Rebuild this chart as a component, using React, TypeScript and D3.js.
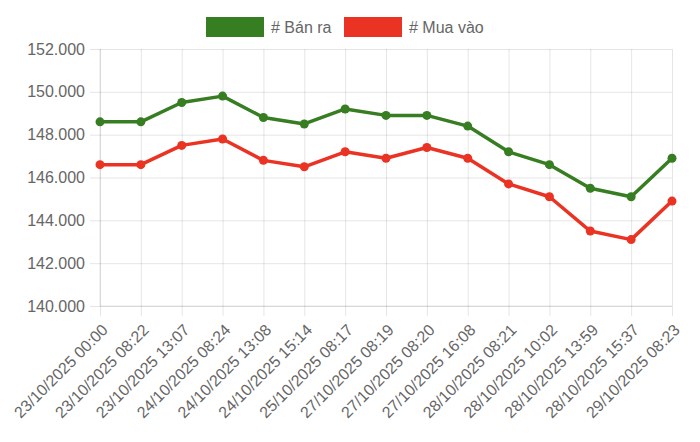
import * as d3 from "d3";
import { useEffect, useRef } from "react";

const labels = [
  "23/10/2025 00:00",
  "23/10/2025 08:22",
  "23/10/2025 13:07",
  "24/10/2025 08:24",
  "24/10/2025 13:08",
  "24/10/2025 15:14",
  "25/10/2025 08:17",
  "27/10/2025 08:19",
  "27/10/2025 08:20",
  "27/10/2025 16:08",
  "28/10/2025 08:21",
  "28/10/2025 10:02",
  "28/10/2025 13:59",
  "28/10/2025 15:37",
  "29/10/2025 08:23",
];

const banRa = [
  148600, 148600, 149500, 149800, 148800, 148500, 149200, 148900, 148900, 148400,
  147200, 146600, 145500, 145100, 146900,
];

const muaVao = [
  146600, 146600, 147500, 147800, 146800, 146500, 147200, 146900, 147400, 146900,
  145700, 145100, 143500, 143100, 144900,
];

const yTicks = [140000, 142000, 144000, 146000, 148000, 150000, 152000];

const seriesNames = ["# Bán ra", "# Mua vào"];
const seriesColors = ["#377d22", "#ea3323"];

export default function App() {
  const ref = useRef<SVGSVGElement | null>(null);

  useEffect(() => {
    const el = ref.current;
    if (!el) return;
    const svg = d3.select(el);
    svg.selectAll("*").remove();

    const W = 700;
    const H = 442;
    const left = 100;
    const right = 672;
    const top = 49;
    const bottom = 306;
    const font = "'Liberation Sans', Arial, Helvetica, sans-serif";
    const grid = "rgba(0,0,0,0.1)";
    const txt = "#666";

    svg.attr("width", W).attr("height", H).attr("viewBox", `0 0 ${W} ${H}`);

    const x = d3.scalePoint<string>().domain(labels).range([left, right]);
    const y = d3.scaleLinear().domain([140000, 152000]).range([bottom, top]);
    const fmt = d3
      .formatLocale({ decimal: ",", thousands: ".", grouping: [3], currency: ["", ""] })
      .format(",d");

    // horizontal grid + y ticks
    svg
      .append("g")
      .attr("transform", `translate(${left},0)`)
      .call(
        d3
          .axisLeft(y)
          .tickValues(yTicks)
          .tickSize(10)
          .tickPadding(5)
          .tickFormat((v) => fmt(v as number)),
      )
      .call((ga) => ga.select(".domain").remove())
      .call((ga) => ga.selectAll(".tick line").attr("stroke", grid))
      .call((ga) =>
        ga
          .selectAll(".tick text")
          .attr("fill", txt)
          .attr("font-size", 16)
          .attr("font-family", font),
      )
      .call((ga) =>
        ga
          .selectAll(".tick")
          .append("line")
          .attr("x1", 0)
          .attr("x2", right - left)
          .attr("stroke", grid),
      );

    // vertical grid + x ticks
    const xg = svg.append("g").attr("transform", `translate(0,${bottom})`);
    xg.call(d3.axisBottom(x).tickSize(10).tickFormat(() => ""))
      .call((ga) => ga.select(".domain").remove())
      .call((ga) => ga.selectAll(".tick line").attr("stroke", grid))
      .call((ga) =>
        ga
          .selectAll(".tick")
          .append("line")
          .attr("y1", 0)
          .attr("y2", top - bottom)
          .attr("stroke", grid),
      );

    svg
      .append("g")
      .selectAll("text")
      .data(labels)
      .join("text")
      .attr("transform", (d) => `translate(${(x(d) ?? 0) + 5},${bottom + 21}) rotate(-45)`)
      .attr("text-anchor", "end")
      .attr("dominant-baseline", "central")
      .attr("fill", txt)
      .attr("font-size", 16)
      .attr("font-family", font)
      .text((d) => d);

    // axis borders
    svg
      .append("line")
      .attr("x1", left)
      .attr("x2", left)
      .attr("y1", top)
      .attr("y2", bottom)
      .attr("stroke", grid);
    svg
      .append("line")
      .attr("x1", left)
      .attr("x2", right)
      .attr("y1", bottom)
      .attr("y2", bottom)
      .attr("stroke", grid);

    const line = d3
      .line<number>()
      .x((_, i) => x(labels[i]) ?? 0)
      .y((d) => y(d));

    [banRa, muaVao].forEach((vals, si) => {
      const col = seriesColors[si];
      svg
        .append("path")
        .datum(vals)
        .attr("fill", "none")
        .attr("stroke", col)
        .attr("stroke-width", 3.5)
        .attr("stroke-linejoin", "round")
        .attr("d", line);
      svg
        .append("g")
        .selectAll("circle")
        .data(vals)
        .join("circle")
        .attr("cx", (_, i) => x(labels[i]) ?? 0)
        .attr("cy", (d) => y(d))
        .attr("r", 4.5)
        .attr("fill", col);
    });

    // legend
    const legendX = [206, 344];
    seriesNames.forEach((name, i) => {
      const lg = svg.append("g").attr("transform", `translate(${legendX[i]},17)`);
      lg.append("rect")
        .attr("width", 58)
        .attr("height", 20)
        .attr("fill", seriesColors[i]);
      lg.append("text")
        .attr("x", 65)
        .attr("y", 10)
        .attr("dominant-baseline", "central")
        .attr("fill", txt)
        .attr("font-size", 16)
        .attr("font-family", font)
        .text(name);
    });
  }, []);

  return (
    <svg
      ref={ref}
      style={{ position: "fixed", left: 0, top: 0, background: "#fff" }}
    />
  );
}
